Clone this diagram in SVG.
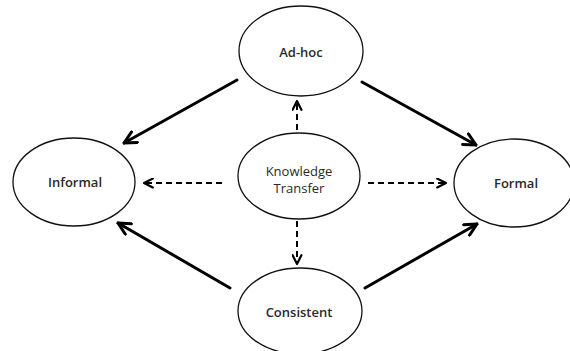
<svg xmlns="http://www.w3.org/2000/svg" width="570" height="351" viewBox="0 0 570 351">
  <style>
    .node { fill: #ffffff; stroke: #111111; stroke-width: 1.3; }
    .lbl { font-family: "Open Sans", "Liberation Sans", Arial, sans-serif; font-size: 13px; fill: #2a2a2a; text-anchor: middle; }
    .bold { font-weight: 600; }
    .solid { fill: none; stroke: #000000; stroke-width: 3; stroke-linecap: round; marker-end: url(#chev); }
    .dash { fill: none; stroke: #000000; stroke-width: 2; stroke-dasharray: 6 4; marker-end: url(#chevSmall); }
  </style>
  <defs>
    <marker id="chev" viewBox="0 0 10 10" refX="9" refY="5" markerWidth="5" markerHeight="5" markerUnits="strokeWidth" orient="auto">
      <path d="M1,1 L9,5 L1,9" fill="none" stroke="#000000" stroke-width="2" stroke-linecap="round" stroke-linejoin="round"/>
    </marker>
    <marker id="chevSmall" viewBox="0 0 10 10" refX="9" refY="5" markerWidth="5.5" markerHeight="5.5" markerUnits="strokeWidth" orient="auto">
      <path d="M1,1 L9,5 L1,9" fill="none" stroke="#000000" stroke-width="2" stroke-linecap="round" stroke-linejoin="round"/>
    </marker>
  </defs>

  <rect width="570" height="351" fill="#ffffff"/>

  <g id="connectors">
    <!-- solid arrows from Ad-hoc and Consistent -->
    <line class="solid" x1="237" y1="80" x2="124" y2="143"/>
    <line class="solid" x1="362" y1="82" x2="476" y2="145"/>
    <line class="solid" x1="230" y1="288" x2="118" y2="223"/>
    <line class="solid" x1="365" y1="288" x2="477" y2="224"/>
    <!-- dashed arrows out of Knowledge Transfer -->
    <line class="dash" x1="222" y1="183" x2="144" y2="183"/>
    <line class="dash" x1="368" y1="183" x2="446" y2="183"/>
    <line class="dash" x1="297" y1="130" x2="297" y2="101"/>
    <line class="dash" x1="297" y1="221" x2="297" y2="264"/>
  </g>

  <g id="adhoc">
    <ellipse class="node" cx="301" cy="51" rx="62" ry="45"/>
    <text class="lbl bold" x="301" y="57">Ad-hoc</text>
  </g>
  <g id="informal">
    <ellipse class="node" cx="74" cy="182" rx="61" ry="44"/>
    <text class="lbl bold" x="75" y="187">Informal</text>
  </g>
  <g id="knowledge-transfer">
    <ellipse class="node" cx="299" cy="176" rx="61" ry="43"/>
    <text class="lbl" x="299" y="176">Knowledge</text>
    <text class="lbl" x="299" y="193">Transfer</text>
  </g>
  <g id="formal">
    <ellipse class="node" cx="514" cy="183" rx="60" ry="44"/>
    <text class="lbl bold" x="516" y="188">Formal</text>
  </g>
  <g id="consistent">
    <ellipse class="node" cx="300" cy="311" rx="62" ry="43"/>
    <text class="lbl bold" x="299" y="317">Consistent</text>
  </g>
</svg>
